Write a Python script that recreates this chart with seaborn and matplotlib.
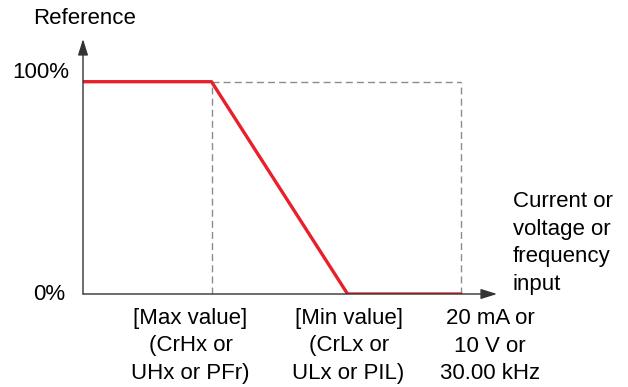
import seaborn as sns
import matplotlib.pyplot as plt
import pandas as pd

# input position (% of full input range) and reference (%)
input_pos = [0, 34, 70, 100]
reference = [100, 100, 0, 0]

x_ticks = [34, 70, 100]
x_labels = ["[Max value]\n(CrHx or\nUHx or PFr)",
            "[Min value]\n(CrLx or\nULx or PIL)",
            "20 mA or\n10 V or\n30.00 kHz"]
y_ticks = [0, 100]
y_labels = ["0%", "100%"]

sns.set_style("white")
plt.rcParams['font.family'] = ['Liberation Sans', 'DejaVu Sans']
plt.rcParams['text.color'] = 'black'

fig = plt.figure(figsize=(6.28, 3.87), dpi=100)
ax = fig.add_axes([83/628, (387-294)/387, (497-83)/628, (294-39)/387])

df = pd.DataFrame({'input': input_pos, 'reference': reference})
sns.lineplot(data=df, x='input', y='reference', color='#e8202a', lw=2.4,
             ax=ax, zorder=3)

# dashed guide lines
grey = '#8c8c8c'
dash = (0, (5, 3))
ax.plot([x_ticks[0], x_ticks[0]], [0, y_ticks[1]], ls=dash, color=grey, lw=1)
ax.plot([x_ticks[0], x_ticks[2]], [y_ticks[1], y_ticks[1]], ls=dash, color=grey, lw=1)
ax.plot([x_ticks[2], x_ticks[2]], [0, y_ticks[1]], ls=dash, color=grey, lw=1)

ax.set_xlim(0, (497 - 83) / 3.78)
ax.set_ylim(0, (294 - 39) / 2.123)
ax.set_xticks(x_ticks)
ax.set_xticklabels([])
ax.set_yticks(y_ticks)
ax.set_yticklabels([])
ax.tick_params(axis='both', length=6, width=1, color=grey, direction='out')
ax.set_xlabel('')
ax.set_ylabel('')
for s in ax.spines.values():
    s.set_visible(False)

# tick labels, placed like in the drawing
x_offsets = [-21, 1, 29]
for x, lab, dx in zip(x_ticks, x_labels, x_offsets):
    ax.annotate(lab, xy=(x, 0), xytext=(dx, -52), textcoords='offset pixels',
                ha='center', va='center', fontsize=16, linespacing=1.4)
y_offsets = [(-18, -1), (-14, 9)]
for y, lab, (dx, dy) in zip(y_ticks, y_labels, y_offsets):
    ax.annotate(lab, xy=(0, y), xytext=(dx, dy), textcoords='offset pixels',
                ha='right', va='center', fontsize=16)

# axes with arrows
arrow = dict(arrowstyle='-|>,head_length=0.7,head_width=0.22', color='#333333',
             lw=1, mutation_scale=14, shrinkA=0, shrinkB=0)
ax.annotate('', xy=(1, 0), xytext=(0, 0), xycoords='axes fraction', arrowprops=arrow)
ax.annotate('', xy=(0, 1), xytext=(0, 0), xycoords='axes fraction', arrowprops=arrow)

fig.text(33/628, 1 - 18/387, 'Reference', fontsize=16, va='center', ha='left')
fig.text(513/628, 1 - 243/387, 'Current or\nvoltage or\nfrequency\ninput',
         fontsize=16, va='center', ha='left', linespacing=1.4)

plt.savefig('out.png', dpi=100)
